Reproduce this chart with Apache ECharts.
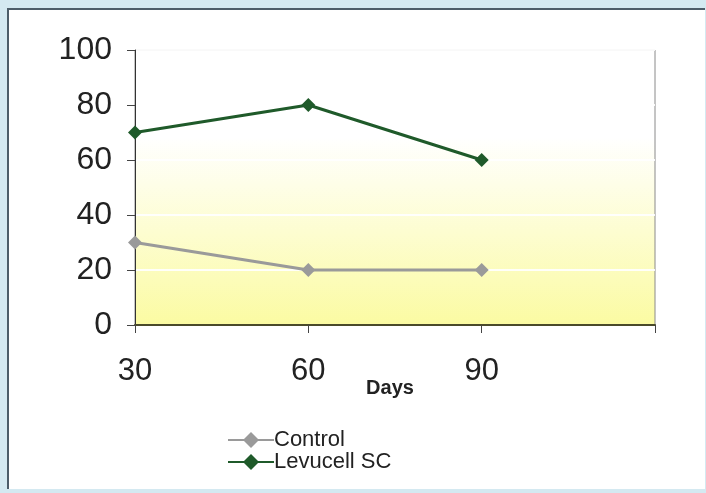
<!DOCTYPE html>
<html><head><meta charset="utf-8">
<script src="https://cdn.jsdelivr.net/npm/echarts@6/dist/echarts.min.js"></script>
<style>
html,body{margin:0;padding:0;width:706px;height:493px;overflow:hidden;background:#d4e9f1;}
#frame{position:absolute;left:7px;top:8px;width:698px;height:481px;background:#fff;border-top:2px solid #4d5d69;border-left:2px solid #4d5d69;box-sizing:border-box;}
#c{position:absolute;left:0;top:0;width:706px;height:493px;}
</style></head><body>
<div id="frame"></div>
<div id="c"></div>
<script>
const categories = ['30', '60', '90', ''];
const controlValues = [30, 20, 20];
const levucellValues = [70, 80, 60];
const yTicks = [0, 20, 40, 60, 80, 100];

const chart = echarts.init(document.getElementById('c'), null, {renderer: 'canvas'});
chart.setOption({
  backgroundColor: 'transparent',
  animation: false,
  grid: {
    left: 135, right: 51, top: 50, bottom: 168,
    show: true, borderColor: '#8a8a8a', borderWidth: 1,
    backgroundColor: {
      type: 'linear', x: 0, y: 0, x2: 0, y2: 1,
      colorStops: [
        {offset: 0, color: '#ffffff'},
        {offset: 0.32, color: '#ffffff'},
        {offset: 1, color: '#fbfba2'}
      ]
    }
  },
  legend: {
    orient: 'vertical', left: 222, top: 424,
    itemWidth: 46, itemHeight: 20, itemGap: 0,
    textStyle: {fontFamily: 'Liberation Sans', fontSize: 22, color: '#222', padding: [0, 0, 0, -5]},
    data: ['Control', 'Levucell SC']
  },
  xAxis: {
    type: 'category', data: categories, boundaryGap: false,
    name: 'Days', nameLocation: 'middle', nameGap: 53, nameMoveOverlap: false,
    nameTextStyle: {fontFamily: 'Liberation Sans', fontWeight: 'bold', fontSize: 20, color: '#222', padding: [0, 10, 0, 0]},
    axisLine: {lineStyle: {color: '#4a4a2a', width: 2}},
    axisTick: {show: true, length: 8, lineStyle: {color: '#444', width: 1}, alignWithLabel: true},
    axisLabel: {fontFamily: 'Liberation Sans', fontSize: 31, color: '#222', margin: 31},
    splitLine: {show: false}
  },
  yAxis: {
    type: 'value', min: 0, max: 100, interval: 20,
    axisLine: {show: true, lineStyle: {color: '#333', width: 1}},
    axisTick: {show: true, length: 8, lineStyle: {color: '#444'}},
    axisLabel: {fontFamily: 'Liberation Sans', fontSize: 32, color: '#222', margin: 23,
      formatter: v => yTicks.includes(v) ? String(v) : ''},
    splitLine: {show: true, lineStyle: {color: 'rgba(255,255,255,0.9)', width: 2}}
  },
  series: [
    {
      name: 'Control', type: 'line', data: controlValues,
      symbol: 'diamond', symbolSize: 14,
      lineStyle: {color: '#9a9a9a', width: 3},
      itemStyle: {color: '#9a9a9a'}
    },
    {
      name: 'Levucell SC', type: 'line', data: levucellValues,
      symbol: 'diamond', symbolSize: 14,
      lineStyle: {color: '#1f5a2a', width: 3},
      itemStyle: {color: '#1f5a2a'}
    }
  ]
});
</script>
</body></html>
